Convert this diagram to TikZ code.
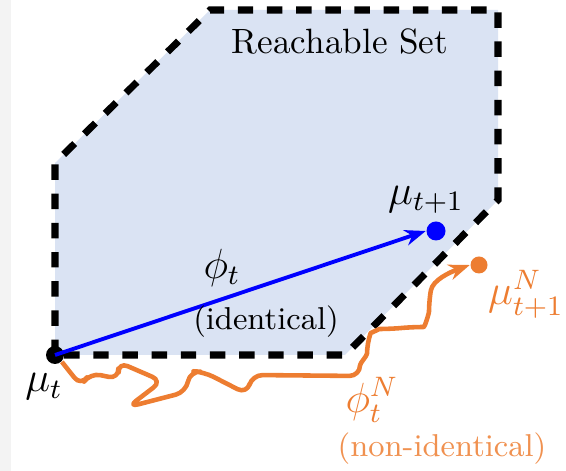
\documentclass[tikz,border=0pt]{standalone}
\usepackage{tikz}
\usetikzlibrary{arrows.meta,positioning}
\usepackage{xcolor}
\definecolor{setfill}{RGB}{218,227,243}
\definecolor{noisyorange}{RGB}{237,125,49}
\definecolor{stripgray}{RGB}{243,243,243}

\begin{document}
\begin{tikzpicture}[
    dot/.style={circle, inner sep=0pt, minimum size=0.18cm},
    setedge/.style={line width=2pt, dash pattern=on 4.4pt off 3.9pt},
    mathlabel/.style={font=\large},
    note/.style={font=\small},
    arrow/.style={-{Stealth[length=6pt,width=4.5pt]}, line width=1.1pt}
]
\useasboundingbox (0,0) rectangle (5.66,4.71);
\fill[stripgray] (0,0) rectangle (0.11,4.71);

% reachable set
\filldraw[setedge, fill=setfill] (0.55,1.16) -- (0.55,3.08) -- (2.10,4.61)
    -- (4.98,4.61) -- (4.98,2.71) -- (3.45,1.16) -- cycle;
\node (set-label) at (3.40,4.29) {Reachable Set};

% points
\node[dot, fill=black] (mu-t) at (0.55,1.16) {};
\node[dot, fill=blue, minimum size=0.19cm] (mu-next) at (4.36,2.40) {};
\node[dot, fill=noisyorange, minimum size=0.17cm] (mu-noisy) at (4.79,2.06) {};

\node[mathlabel] (mu-t-label) at (0.44,0.84) {$\mu_t$};
\node[mathlabel] (mu-next-label) at (4.26,2.71) {$\mu_{t+1}$};
\node[mathlabel, color=noisyorange] (mu-noisy-label) at (5.26,1.77) {$\mu_{t+1}^N$};

% identical update
\draw[arrow, color=blue] (mu-t.center) -- (mu-next.west);
\node[mathlabel] (phi-label) at (2.22,2.03) {$\phi_t$};
\node[note] (ident-label) at (2.66,1.49) {(identical)};

% non-identical update
\draw[arrow, line width=1.3pt, color=noisyorange, line join=round, rounded corners=3pt] (mu-t.south east)
    -- (0.81,0.85) -- (0.90,0.98) -- (1.19,0.92) -- (1.18,1.09) -- (1.62,0.90)
    -- (1.28,0.64) -- (1.86,0.79) -- (1.90,1.00) -- (2.04,0.99) -- (2.47,0.77)
    -- (2.52,0.96) -- (3.60,0.95)
    to[out=90,in=-90] (3.67,1.28)
    to[out=70,in=180] (3.90,1.42)
    -- (4.13,1.44)
    to[out=0,in=-90] (4.29,1.70)
    to[out=80,in=200] (mu-noisy.west);
\node[mathlabel, color=noisyorange] (phi-noisy-label) at (3.72,0.71) {$\phi_t^N$};
\node[note, color=noisyorange!85] (nonident-label) at (4.42,0.22) {(non-identical)};

\end{tikzpicture}
\end{document}
